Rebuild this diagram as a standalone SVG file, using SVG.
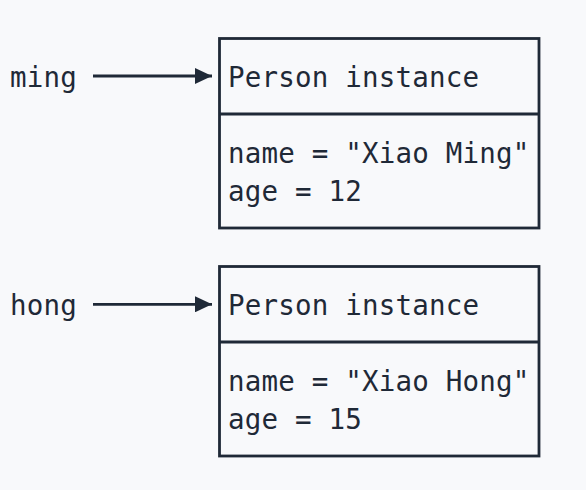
<svg xmlns="http://www.w3.org/2000/svg" width="586" height="490" viewBox="0 0 586 490">
<defs>
<style>
.bg{fill:#f8f9fb}
.box{fill:none;stroke:#1f2937;stroke-width:2.8}
.t{font-family:"DejaVu Sans Mono","Liberation Mono",monospace;font-size:27.5px;letter-spacing:0.2px;fill:#1f2937}
.edge{stroke:#1f2937;stroke-width:2.8;fill:none}
</style>
<marker id="ah" viewBox="0 0 17 16" refX="17" refY="8" markerWidth="17" markerHeight="16" markerUnits="userSpaceOnUse" orient="auto">
<path d="M0,0 L17,8 L0,16 Z" fill="#1f2937"/>
</marker>
</defs>
<rect class="bg" x="0" y="0" width="586" height="490"/>
<g id="ming">
<text class="t" x="10" y="87">ming</text>
</g>
<g id="hong">
<text class="t" x="10" y="315">hong</text>
</g>
<g id="person1">
<rect class="box" x="219.5" y="38.5" width="319.5" height="189.5"/>
<line class="box" x1="219.5" y1="114" x2="539" y2="114"/>
<text class="t" x="228" y="87">Person instance</text>
<text class="t" x="228" y="163">name = "Xiao Ming"</text>
<text class="t" x="228" y="200.5">age = 12</text>
</g>
<g id="person2">
<rect class="box" x="219.5" y="266.5" width="319.5" height="189.5"/>
<line class="box" x1="219.5" y1="342" x2="539" y2="342"/>
<text class="t" x="228" y="315">Person instance</text>
<text class="t" x="228" y="391">name = "Xiao Hong"</text>
<text class="t" x="228" y="428.5">age = 15</text>
</g>
<g id="connectors">
<line class="edge" x1="93" y1="76" x2="212" y2="76" marker-end="url(#ah)"/>
<line class="edge" x1="93" y1="304.3" x2="212" y2="304.3" marker-end="url(#ah)"/>
</g>
</svg>
